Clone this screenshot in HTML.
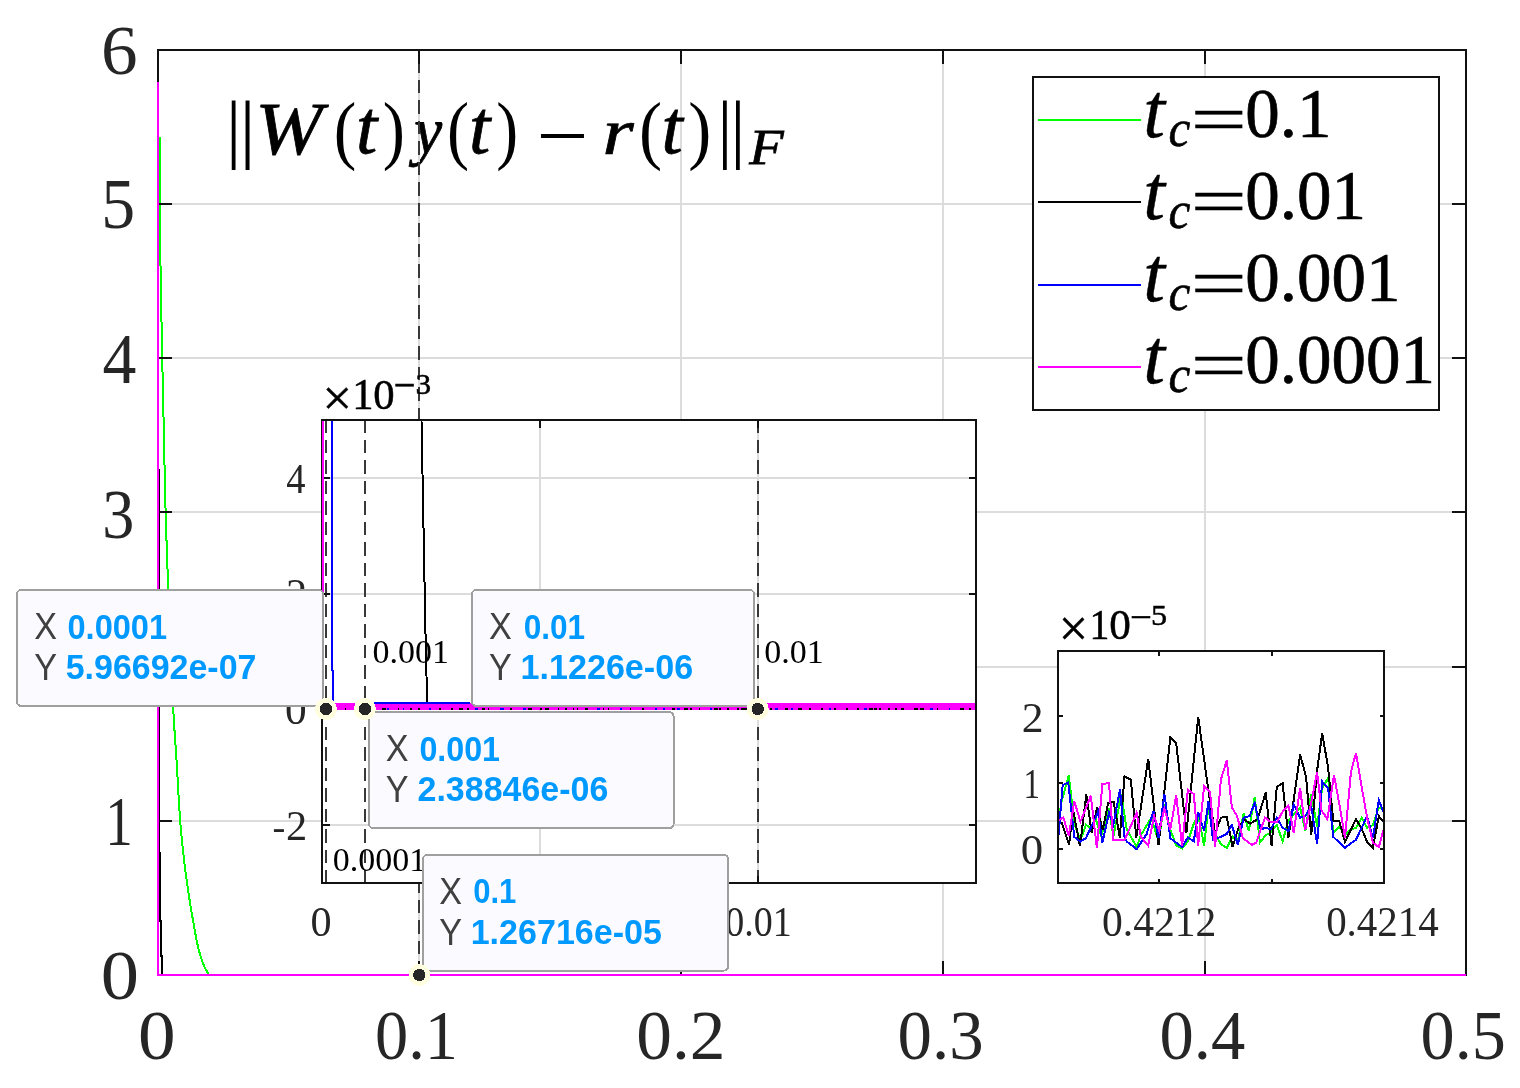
<!DOCTYPE html>
<html><head><meta charset="utf-8"><title>plot</title>
<style>html,body{margin:0;padding:0;background:#fff;width:1520px;height:1088px;overflow:hidden}svg{display:block}</style>
</head><body>
<svg width="1520" height="1088" viewBox="0 0 1520 1088" shape-rendering="crispEdges"><defs><clipPath id="c2"><rect x="1058" y="651" width="326" height="232"/></clipPath></defs>
<rect x="0" y="0" width="1520" height="1088" fill="#fff"/>
<line x1="681.00" y1="50.00" x2="681.00" y2="975.00" stroke="#dcdcdc" stroke-width="2" />
<line x1="943.00" y1="50.00" x2="943.00" y2="975.00" stroke="#dcdcdc" stroke-width="2" />
<line x1="1205.00" y1="50.00" x2="1205.00" y2="975.00" stroke="#dcdcdc" stroke-width="2" />
<line x1="158.00" y1="821.00" x2="1466.00" y2="821.00" stroke="#dcdcdc" stroke-width="2" />
<line x1="158.00" y1="667.00" x2="1466.00" y2="667.00" stroke="#dcdcdc" stroke-width="2" />
<line x1="158.00" y1="512.00" x2="1466.00" y2="512.00" stroke="#dcdcdc" stroke-width="2" />
<line x1="158.00" y1="358.00" x2="1466.00" y2="358.00" stroke="#dcdcdc" stroke-width="2" />
<line x1="158.00" y1="204.00" x2="1466.00" y2="204.00" stroke="#dcdcdc" stroke-width="2" />
<text transform="translate(226.06,154.30) scale(0.7630,0.7508)" font-family="'Liberation Serif', serif" font-style="normal" font-weight="normal" font-size="100" fill="#000">|</text>
<text transform="translate(239.56,154.30) scale(0.8031,0.7508)" font-family="'Liberation Serif', serif" font-style="normal" font-weight="normal" font-size="100" fill="#000">|</text>
<text transform="translate(255.18,153.99) scale(0.8069,0.7359)" font-family="'Liberation Serif', serif" font-style="italic" font-weight="normal" font-size="100" fill="#000" stroke="#000" stroke-width="1.037">W</text>
<text transform="translate(333.72,154.67) scale(0.6775,0.7577)" font-family="'Liberation Serif', serif" font-style="normal" font-weight="normal" font-size="100" fill="#000">(</text>
<text transform="translate(355.98,153.05) scale(0.7647,0.7647)" font-family="'Liberation Serif', serif" font-style="italic" font-weight="normal" font-size="100" fill="#000" stroke="#000" stroke-width="1.046">t</text>
<text transform="translate(382.75,154.67) scale(0.6658,0.7577)" font-family="'Liberation Serif', serif" font-style="normal" font-weight="normal" font-size="100" fill="#000">)</text>
<text transform="translate(414.15,152.94) scale(0.6290,0.6609)" font-family="'Liberation Serif', serif" font-style="italic" font-weight="normal" font-size="100" fill="#000" stroke="#000" stroke-width="1.240">y</text>
<text transform="translate(446.99,154.67) scale(0.6619,0.7577)" font-family="'Liberation Serif', serif" font-style="normal" font-weight="normal" font-size="100" fill="#000">(</text>
<text transform="translate(469.08,153.05) scale(0.7647,0.7647)" font-family="'Liberation Serif', serif" font-style="italic" font-weight="normal" font-size="100" fill="#000" stroke="#000" stroke-width="1.046">t</text>
<text transform="translate(496.18,154.67) scale(0.6580,0.7577)" font-family="'Liberation Serif', serif" font-style="normal" font-weight="normal" font-size="100" fill="#000">)</text>
<text transform="translate(536.50,163.90) scale(0.9241,0.8433)" font-family="'Liberation Serif', serif" font-style="normal" font-weight="normal" font-size="100" fill="#000">−</text>
<text transform="translate(602.55,153.80) scale(0.8021,0.6579)" font-family="'Liberation Serif', serif" font-style="italic" font-weight="normal" font-size="100" fill="#000" stroke="#000" stroke-width="1.096">r</text>
<text transform="translate(639.05,154.67) scale(0.6930,0.7577)" font-family="'Liberation Serif', serif" font-style="normal" font-weight="normal" font-size="100" fill="#000">(</text>
<text transform="translate(661.58,153.05) scale(0.7647,0.7647)" font-family="'Liberation Serif', serif" font-style="italic" font-weight="normal" font-size="100" fill="#000" stroke="#000" stroke-width="1.046">t</text>
<text transform="translate(688.17,154.67) scale(0.6930,0.7577)" font-family="'Liberation Serif', serif" font-style="normal" font-weight="normal" font-size="100" fill="#000">)</text>
<text transform="translate(717.26,154.30) scale(0.7630,0.7508)" font-family="'Liberation Serif', serif" font-style="normal" font-weight="normal" font-size="100" fill="#000">|</text>
<text transform="translate(730.26,154.30) scale(0.7630,0.7508)" font-family="'Liberation Serif', serif" font-style="normal" font-weight="normal" font-size="100" fill="#000">|</text>
<text transform="translate(749.30,164.00) scale(0.5636,0.5116)" font-family="'Liberation Serif', serif" font-style="italic" font-weight="normal" font-size="100" fill="#000" stroke="#000" stroke-width="1.488">F</text>
<line x1="419.00" y1="50.00" x2="419.00" y2="975.00" stroke="#dcdcdc" stroke-width="2" />
<line x1="419.00" y1="50.00" x2="419.00" y2="975.00" stroke="#383838" stroke-width="2" stroke-dasharray="13.5 7" stroke-dashoffset="11.5"/>
<polyline points="159.50,137.00 159.50,141.21 159.51,145.42 159.52,149.63 159.53,153.84 159.54,158.06 159.56,162.27 159.58,166.48 159.60,170.69 159.63,174.90 159.65,179.11 159.68,183.32 159.71,187.53 159.74,191.74 159.78,195.95 159.81,200.17 159.85,204.38 159.89,208.59 159.92,212.80 159.97,217.01 160.01,221.22 160.05,225.43 160.09,229.64 160.14,233.85 160.18,238.07 160.23,242.28 160.28,246.49 160.33,250.70 160.37,254.91 160.42,259.12 160.47,263.33 160.52,267.54 160.57,271.75 160.64,275.96 160.70,280.18 160.78,284.39 160.85,288.60 160.93,292.81 161.02,297.02 161.10,301.23 161.19,305.44 161.27,309.65 161.36,313.86 161.44,318.08 161.52,322.29 161.61,326.50 161.69,330.71 161.77,334.92 161.85,339.13 161.93,343.34 162.02,347.55 162.10,351.76 162.19,355.97 162.27,360.19 162.36,364.40 162.45,368.61 162.54,372.82 162.63,377.03 162.72,381.24 162.82,385.45 162.91,389.66 163.01,393.87 163.10,398.09 163.20,402.30 163.29,406.51 163.39,410.72 163.48,414.93 163.57,419.14 163.65,423.35 163.74,427.56 163.82,431.77 163.91,435.98 163.99,440.20 164.08,444.41 164.16,448.62 164.25,452.83 164.34,457.04 164.43,461.25 164.52,465.46 164.61,469.67 164.69,473.88 164.79,478.10 164.88,482.31 164.97,486.52 165.07,490.73 165.17,494.94 165.28,499.15 165.39,503.36 165.50,507.57 165.62,511.78 165.75,515.99 165.87,520.21 166.00,524.42 166.13,528.63 166.27,532.84 166.40,537.05 166.54,541.26 166.69,545.47 166.83,549.68 166.98,553.89 167.12,558.11 167.27,562.32 167.42,566.53 167.57,570.74 167.73,574.95 167.88,579.16 168.03,583.37 168.18,587.58 168.34,591.79 168.49,596.01 168.64,600.22 168.80,604.43 168.95,608.64 169.11,612.85 169.26,617.06 169.42,621.27 169.58,625.48 169.73,629.69 169.89,633.90 170.06,638.12 170.22,642.33 170.39,646.54 170.55,650.75 170.72,654.96 170.90,659.17 171.07,663.38 171.25,667.59 171.43,671.80 171.62,676.02 171.81,680.23 172.00,684.44 172.20,688.65 172.40,692.86 172.60,697.07 172.81,701.28 173.02,705.49 173.24,709.70 173.48,713.91 173.73,718.13 173.99,722.34 174.26,726.55 174.54,730.76 174.83,734.97 175.11,739.18 175.40,743.39 175.69,747.60 175.97,751.81 176.25,756.03 176.51,760.24 176.77,764.45 177.02,768.66 177.26,772.87 177.50,777.08 177.74,781.29 177.97,785.50 178.21,789.71 178.45,793.92 178.69,798.14 178.95,802.35 179.21,806.56 179.49,810.77 179.78,814.98 180.09,819.19 180.41,823.40 180.76,827.61 181.13,831.82 181.53,836.04 181.94,840.25 182.36,844.46 182.81,848.67 183.26,852.88 183.73,857.09 184.21,861.30 184.71,865.51 185.24,869.72 185.79,873.93 186.36,878.15 186.95,882.36 187.56,886.57 188.18,890.78 188.81,894.99 189.46,899.20 190.13,903.41 190.82,907.62 191.53,911.83 192.25,916.05 192.99,920.26 193.74,924.47 194.47,928.68 195.22,932.89 196.00,937.10 196.83,941.31 197.74,945.52 198.76,949.73 199.90,953.94 201.20,958.16 202.67,962.37 204.40,966.58 206.55,970.79 209.00,975.00 1466.00,975.00" fill="none" stroke="#00ff00" stroke-width="2" stroke-linejoin="miter" stroke-miterlimit="4" />
<polyline points="159.20,469.00 159.20,853.00 160.20,853.00 160.20,921.00 161.20,921.00 161.20,956.00 162.20,956.00 162.20,975.00 1466.00,975.00" fill="none" stroke="#000" stroke-width="2" stroke-linejoin="miter" stroke-miterlimit="4" />
<polyline points="158.00,82.00 158.00,975.00 1466.00,975.00" fill="none" stroke="#ff00ff" stroke-width="2" stroke-linejoin="miter" stroke-miterlimit="4" />
<rect x="158" y="50" width="1308" height="925" fill="none" stroke="#111" stroke-width="2"/>
<line x1="419.00" y1="975.00" x2="419.00" y2="961.00" stroke="#111" stroke-width="2" />
<line x1="419.00" y1="50.00" x2="419.00" y2="64.00" stroke="#111" stroke-width="2" />
<line x1="681.00" y1="975.00" x2="681.00" y2="961.00" stroke="#111" stroke-width="2" />
<line x1="681.00" y1="50.00" x2="681.00" y2="64.00" stroke="#111" stroke-width="2" />
<line x1="943.00" y1="975.00" x2="943.00" y2="961.00" stroke="#111" stroke-width="2" />
<line x1="943.00" y1="50.00" x2="943.00" y2="64.00" stroke="#111" stroke-width="2" />
<line x1="1205.00" y1="975.00" x2="1205.00" y2="961.00" stroke="#111" stroke-width="2" />
<line x1="1205.00" y1="50.00" x2="1205.00" y2="64.00" stroke="#111" stroke-width="2" />
<line x1="158.00" y1="821.00" x2="172.00" y2="821.00" stroke="#111" stroke-width="2" />
<line x1="1466.00" y1="821.00" x2="1452.00" y2="821.00" stroke="#111" stroke-width="2" />
<line x1="158.00" y1="667.00" x2="172.00" y2="667.00" stroke="#111" stroke-width="2" />
<line x1="1466.00" y1="667.00" x2="1452.00" y2="667.00" stroke="#111" stroke-width="2" />
<line x1="158.00" y1="512.00" x2="172.00" y2="512.00" stroke="#111" stroke-width="2" />
<line x1="1466.00" y1="512.00" x2="1452.00" y2="512.00" stroke="#111" stroke-width="2" />
<line x1="158.00" y1="358.00" x2="172.00" y2="358.00" stroke="#111" stroke-width="2" />
<line x1="1466.00" y1="358.00" x2="1452.00" y2="358.00" stroke="#111" stroke-width="2" />
<line x1="158.00" y1="204.00" x2="172.00" y2="204.00" stroke="#111" stroke-width="2" />
<line x1="1466.00" y1="204.00" x2="1452.00" y2="204.00" stroke="#111" stroke-width="2" />
<polyline points="158.00,82.00 158.00,975.00 1466.00,975.00" fill="none" stroke="#ff00ff" stroke-width="2" stroke-linejoin="miter" stroke-miterlimit="4" />
<text transform="translate(101.05,74.32) scale(0.7326,0.6995)" font-family="'Liberation Serif', serif" font-style="normal" font-weight="normal" font-size="100" fill="#262626">6</text>
<text transform="translate(101.26,227.60) scale(0.6777,0.7118)" font-family="'Liberation Serif', serif" font-style="normal" font-weight="normal" font-size="100" fill="#262626">5</text>
<text transform="translate(102.38,383.30) scale(0.6776,0.7110)" font-family="'Liberation Serif', serif" font-style="normal" font-weight="normal" font-size="100" fill="#262626">4</text>
<text transform="translate(102.33,537.71) scale(0.6415,0.7055)" font-family="'Liberation Serif', serif" font-style="normal" font-weight="normal" font-size="100" fill="#262626">3</text>
<text transform="translate(101.27,691.00) scale(0.7359,0.7099)" font-family="'Liberation Serif', serif" font-style="normal" font-weight="normal" font-size="100" fill="#262626">2</text>
<text transform="translate(105.26,845.10) scale(0.5511,0.6983)" font-family="'Liberation Serif', serif" font-style="normal" font-weight="normal" font-size="100" fill="#262626">1</text>
<text transform="translate(100.79,999.02) scale(0.7645,0.6950)" font-family="'Liberation Serif', serif" font-style="normal" font-weight="normal" font-size="100" fill="#262626">0</text>
<text transform="translate(138.03,1058.60) scale(1.0661,1)" font-family="'Liberation Serif', serif" font-style="normal" font-weight="normal" font-size="70.6" fill="#262626">0</text>
<text transform="translate(375.07,1058.60) scale(0.9395,1)" font-family="'Liberation Serif', serif" font-style="normal" font-weight="normal" font-size="70.6" fill="#262626">0.1</text>
<text transform="translate(636.28,1058.60) scale(1.0114,1)" font-family="'Liberation Serif', serif" font-style="normal" font-weight="normal" font-size="70.6" fill="#262626">0.2</text>
<text transform="translate(897.58,1058.60) scale(0.9758,1)" font-family="'Liberation Serif', serif" font-style="normal" font-weight="normal" font-size="70.6" fill="#262626">0.3</text>
<text transform="translate(1159.49,1058.60) scale(0.9721,1)" font-family="'Liberation Serif', serif" font-style="normal" font-weight="normal" font-size="70.6" fill="#262626">0.4</text>
<text transform="translate(1420.60,1058.60) scale(0.9661,1)" font-family="'Liberation Serif', serif" font-style="normal" font-weight="normal" font-size="70.6" fill="#262626">0.5</text>
<rect x="1033" y="77" width="406" height="333" fill="#fff" stroke="#111" stroke-width="2"/>
<line x1="1038.00" y1="119.80" x2="1141.00" y2="119.80" stroke="#00ff00" stroke-width="2" />
<text transform="translate(1143.13,137.34) scale(0.7822,0.7822)" font-family="'Liberation Serif', serif" font-style="italic" font-weight="normal" font-size="100" fill="#000" stroke="#000" stroke-width="0.511">t</text>
<text transform="translate(1168.59,146.49) scale(0.4921,0.5177)" font-family="'Liberation Serif', serif" font-style="italic" font-weight="normal" font-size="100" fill="#000" stroke="#000" stroke-width="1.188">c</text>
<text transform="translate(1190.64,141.81) scale(0.9950,0.6720)" font-family="'Liberation Serif', serif" font-style="normal" font-weight="normal" font-size="100" fill="#000" stroke="#000" stroke-width="0.720">=</text>
<text x="1245.30" y="137.40" font-family="'Liberation Serif', serif" font-style="normal" font-weight="normal" font-size="69" fill="#000" text-anchor="start" stroke="#000" stroke-width="0.7">0.1</text>
<line x1="1038.00" y1="202.20" x2="1141.00" y2="202.20" stroke="#000" stroke-width="2" />
<text transform="translate(1143.13,219.24) scale(0.7822,0.7822)" font-family="'Liberation Serif', serif" font-style="italic" font-weight="normal" font-size="100" fill="#000" stroke="#000" stroke-width="0.511">t</text>
<text transform="translate(1168.59,228.39) scale(0.4921,0.5177)" font-family="'Liberation Serif', serif" font-style="italic" font-weight="normal" font-size="100" fill="#000" stroke="#000" stroke-width="1.188">c</text>
<text transform="translate(1190.64,223.71) scale(0.9950,0.6720)" font-family="'Liberation Serif', serif" font-style="normal" font-weight="normal" font-size="100" fill="#000" stroke="#000" stroke-width="0.720">=</text>
<text x="1245.30" y="219.30" font-family="'Liberation Serif', serif" font-style="normal" font-weight="normal" font-size="69" fill="#000" text-anchor="start" stroke="#000" stroke-width="0.7">0.01</text>
<line x1="1038.00" y1="284.60" x2="1141.00" y2="284.60" stroke="#0000ff" stroke-width="2" />
<text transform="translate(1143.13,301.14) scale(0.7822,0.7822)" font-family="'Liberation Serif', serif" font-style="italic" font-weight="normal" font-size="100" fill="#000" stroke="#000" stroke-width="0.511">t</text>
<text transform="translate(1168.59,310.29) scale(0.4921,0.5177)" font-family="'Liberation Serif', serif" font-style="italic" font-weight="normal" font-size="100" fill="#000" stroke="#000" stroke-width="1.188">c</text>
<text transform="translate(1190.64,305.61) scale(0.9950,0.6720)" font-family="'Liberation Serif', serif" font-style="normal" font-weight="normal" font-size="100" fill="#000" stroke="#000" stroke-width="0.720">=</text>
<text x="1245.30" y="301.20" font-family="'Liberation Serif', serif" font-style="normal" font-weight="normal" font-size="69" fill="#000" text-anchor="start" stroke="#000" stroke-width="0.7">0.001</text>
<line x1="1038.00" y1="367.00" x2="1141.00" y2="367.00" stroke="#ff00ff" stroke-width="2" />
<text transform="translate(1143.13,383.04) scale(0.7822,0.7822)" font-family="'Liberation Serif', serif" font-style="italic" font-weight="normal" font-size="100" fill="#000" stroke="#000" stroke-width="0.511">t</text>
<text transform="translate(1168.59,392.19) scale(0.4921,0.5177)" font-family="'Liberation Serif', serif" font-style="italic" font-weight="normal" font-size="100" fill="#000" stroke="#000" stroke-width="1.188">c</text>
<text transform="translate(1190.64,387.51) scale(0.9950,0.6720)" font-family="'Liberation Serif', serif" font-style="normal" font-weight="normal" font-size="100" fill="#000" stroke="#000" stroke-width="0.720">=</text>
<text x="1245.30" y="383.10" font-family="'Liberation Serif', serif" font-style="normal" font-weight="normal" font-size="69" fill="#000" text-anchor="start" stroke="#000" stroke-width="0.7">0.0001</text>
<rect x="322" y="420" width="654" height="463" fill="#fff"/>
<line x1="540.00" y1="420.00" x2="540.00" y2="883.00" stroke="#dcdcdc" stroke-width="2" />
<line x1="758.00" y1="420.00" x2="758.00" y2="883.00" stroke="#dcdcdc" stroke-width="2" />
<line x1="322.00" y1="477.88" x2="976.00" y2="477.88" stroke="#dcdcdc" stroke-width="2" />
<line x1="322.00" y1="593.62" x2="976.00" y2="593.62" stroke="#dcdcdc" stroke-width="2" />
<line x1="322.00" y1="709.38" x2="976.00" y2="709.38" stroke="#dcdcdc" stroke-width="2" />
<line x1="322.00" y1="825.12" x2="976.00" y2="825.12" stroke="#dcdcdc" stroke-width="2" />
<line x1="326.00" y1="420.00" x2="326.00" y2="883.00" stroke="#383838" stroke-width="2" stroke-dasharray="13.5 7" stroke-dashoffset="1"/>
<line x1="365.00" y1="420.00" x2="365.00" y2="883.00" stroke="#383838" stroke-width="2" stroke-dasharray="13.5 7" stroke-dashoffset="1"/>
<line x1="758.00" y1="420.00" x2="758.00" y2="883.00" stroke="#383838" stroke-width="2" stroke-dasharray="13.5 7" stroke-dashoffset="1"/>
<text x="332.71" y="871.30" font-family="'Liberation Serif', serif" font-style="normal" font-weight="normal" font-size="34" fill="#000" text-anchor="start" >0.0001</text>
<text x="372.41" y="663.00" font-family="'Liberation Serif', serif" font-style="normal" font-weight="normal" font-size="34" fill="#000" text-anchor="start" >0.001</text>
<text x="764.21" y="663.30" font-family="'Liberation Serif', serif" font-style="normal" font-weight="normal" font-size="34" fill="#000" text-anchor="start" >0.01</text>
<rect x="322" y="420" width="654" height="463" fill="none" stroke="#111" stroke-width="2"/>
<line x1="540.00" y1="883.00" x2="540.00" y2="875.50" stroke="#111" stroke-width="2" />
<line x1="540.00" y1="420.00" x2="540.00" y2="427.50" stroke="#111" stroke-width="2" />
<line x1="758.00" y1="883.00" x2="758.00" y2="875.50" stroke="#111" stroke-width="2" />
<line x1="758.00" y1="420.00" x2="758.00" y2="427.50" stroke="#111" stroke-width="2" />
<line x1="322.00" y1="477.88" x2="329.50" y2="477.88" stroke="#111" stroke-width="2" />
<line x1="976.00" y1="477.88" x2="968.50" y2="477.88" stroke="#111" stroke-width="2" />
<line x1="322.00" y1="593.62" x2="329.50" y2="593.62" stroke="#111" stroke-width="2" />
<line x1="976.00" y1="593.62" x2="968.50" y2="593.62" stroke="#111" stroke-width="2" />
<line x1="322.00" y1="709.38" x2="329.50" y2="709.38" stroke="#111" stroke-width="2" />
<line x1="976.00" y1="709.38" x2="968.50" y2="709.38" stroke="#111" stroke-width="2" />
<line x1="322.00" y1="825.12" x2="329.50" y2="825.12" stroke="#111" stroke-width="2" />
<line x1="976.00" y1="825.12" x2="968.50" y2="825.12" stroke="#111" stroke-width="2" />
<polyline points="323.00,421.00 323.00,706.00" fill="none" stroke="#ff00ff" stroke-width="2" stroke-linejoin="miter" stroke-miterlimit="4" />
<polyline points="332.00,421.00 332.00,669.00 333.00,672.00 333.00,702.00" fill="none" stroke="#0000ff" stroke-width="2" stroke-linejoin="miter" stroke-miterlimit="4" />
<polyline points="421.50,421.00 423.00,500.00 425.30,625.00 426.30,665.00 427.00,703.00" fill="none" stroke="#000" stroke-width="2" stroke-linejoin="miter" stroke-miterlimit="4" />
<rect x="323" y="703" width="652" height="7" fill="#ff00ff"/>
<polyline points="374.30,702.50 470.00,702.50" fill="none" stroke="#0000ff" stroke-width="2" stroke-linejoin="miter" stroke-miterlimit="4" />
<rect x="330" y="708" width="3" height="2" fill="#000"/>
<rect x="335" y="708" width="2" height="2" fill="#0000ff"/>
<rect x="345" y="708" width="1" height="2" fill="#000"/>
<rect x="357" y="708" width="3" height="2" fill="#000"/>
<rect x="363" y="708" width="2" height="2" fill="#0000ff"/>
<rect x="372" y="708" width="2" height="2" fill="#000"/>
<rect x="382" y="708" width="4" height="2" fill="#000"/>
<rect x="387" y="708" width="2" height="2" fill="#0000ff"/>
<rect x="398" y="708" width="1" height="2" fill="#000"/>
<rect x="403" y="708" width="1" height="2" fill="#0000ff"/>
<rect x="410" y="708" width="2" height="2" fill="#000"/>
<rect x="418" y="708" width="2" height="2" fill="#000"/>
<rect x="429" y="708" width="2" height="2" fill="#0000ff"/>
<rect x="439" y="708" width="2" height="2" fill="#000"/>
<rect x="451" y="708" width="2" height="2" fill="#000"/>
<rect x="459" y="708" width="4" height="2" fill="#000"/>
<rect x="467" y="708" width="2" height="2" fill="#000"/>
<rect x="475" y="708" width="3" height="2" fill="#0000ff"/>
<rect x="482" y="708" width="3" height="2" fill="#000"/>
<rect x="488" y="708" width="1" height="2" fill="#000"/>
<rect x="500" y="708" width="4" height="2" fill="#0000ff"/>
<rect x="510" y="708" width="2" height="2" fill="#000"/>
<rect x="523" y="708" width="3" height="2" fill="#0000ff"/>
<rect x="528" y="708" width="4" height="2" fill="#000"/>
<rect x="540" y="708" width="2" height="2" fill="#000"/>
<rect x="545" y="708" width="4" height="2" fill="#000"/>
<rect x="558" y="708" width="1" height="2" fill="#000"/>
<rect x="565" y="708" width="2" height="2" fill="#000"/>
<rect x="573" y="708" width="1" height="2" fill="#000"/>
<rect x="577" y="708" width="1" height="2" fill="#000"/>
<rect x="585" y="708" width="3" height="2" fill="#000"/>
<rect x="597" y="708" width="3" height="2" fill="#0000ff"/>
<rect x="603" y="708" width="1" height="2" fill="#000"/>
<rect x="608" y="708" width="1" height="2" fill="#000"/>
<rect x="620" y="708" width="2" height="2" fill="#0000ff"/>
<rect x="630" y="708" width="1" height="2" fill="#000"/>
<rect x="642" y="708" width="2" height="2" fill="#000"/>
<rect x="655" y="708" width="2" height="2" fill="#0000ff"/>
<rect x="663" y="708" width="2" height="2" fill="#0000ff"/>
<rect x="672" y="708" width="3" height="2" fill="#000"/>
<rect x="677" y="708" width="3" height="2" fill="#0000ff"/>
<rect x="684" y="708" width="4" height="2" fill="#000"/>
<rect x="690" y="708" width="2" height="2" fill="#000"/>
<rect x="699" y="708" width="1" height="2" fill="#000"/>
<rect x="710" y="708" width="2" height="2" fill="#0000ff"/>
<rect x="714" y="708" width="4" height="2" fill="#000"/>
<rect x="719" y="708" width="2" height="2" fill="#000"/>
<rect x="727" y="708" width="2" height="2" fill="#000"/>
<rect x="737" y="708" width="2" height="2" fill="#000"/>
<rect x="741" y="708" width="4" height="2" fill="#000"/>
<rect x="745" y="708" width="4" height="2" fill="#000"/>
<rect x="753" y="708" width="2" height="2" fill="#000"/>
<rect x="759" y="708" width="2" height="2" fill="#000"/>
<rect x="770" y="708" width="2" height="2" fill="#000"/>
<rect x="775" y="708" width="3" height="2" fill="#0000ff"/>
<rect x="785" y="708" width="3" height="2" fill="#000"/>
<rect x="791" y="708" width="2" height="2" fill="#0000ff"/>
<rect x="798" y="708" width="4" height="2" fill="#000"/>
<rect x="809" y="708" width="2" height="2" fill="#000"/>
<rect x="821" y="708" width="2" height="2" fill="#000"/>
<rect x="829" y="708" width="2" height="2" fill="#0000ff"/>
<rect x="834" y="708" width="2" height="2" fill="#000"/>
<rect x="846" y="708" width="2" height="2" fill="#000"/>
<rect x="857" y="708" width="2" height="2" fill="#000"/>
<rect x="864" y="708" width="3" height="2" fill="#0000ff"/>
<rect x="869" y="708" width="4" height="2" fill="#000"/>
<rect x="874" y="708" width="3" height="2" fill="#000"/>
<rect x="879" y="708" width="2" height="2" fill="#000"/>
<rect x="888" y="708" width="2" height="2" fill="#000"/>
<rect x="895" y="708" width="2" height="2" fill="#000"/>
<rect x="901" y="708" width="3" height="2" fill="#000"/>
<rect x="914" y="708" width="4" height="2" fill="#000"/>
<rect x="920" y="708" width="4" height="2" fill="#000"/>
<rect x="930" y="708" width="3" height="2" fill="#0000ff"/>
<rect x="937" y="708" width="1" height="2" fill="#000"/>
<rect x="949" y="708" width="1" height="2" fill="#0000ff"/>
<rect x="960" y="708" width="4" height="2" fill="#000"/>
<rect x="969" y="708" width="2" height="2" fill="#000"/>
<text transform="translate(286.25,492.60) scale(0.3851,0.4193)" font-family="'Liberation Serif', serif" font-style="normal" font-weight="normal" font-size="100" fill="#262626">4</text>
<text transform="translate(286.04,608.30) scale(0.4241,0.4184)" font-family="'Liberation Serif', serif" font-style="normal" font-weight="normal" font-size="100" fill="#262626">2</text>
<text transform="translate(284.95,723.59) scale(0.4341,0.4164)" font-family="'Liberation Serif', serif" font-style="normal" font-weight="normal" font-size="100" fill="#262626">0</text>
<text transform="translate(286.04,839.80) scale(0.4241,0.4184)" font-family="'Liberation Serif', serif" font-style="normal" font-weight="normal" font-size="100" fill="#262626">2</text>
<text transform="translate(272.57,839.50) scale(0.3850,0.3882)" font-family="'Liberation Serif', serif" font-style="normal" font-weight="normal" font-size="100" fill="#262626">-</text>
<text transform="translate(310.39,936.09) scale(0.4223,0.4194)" font-family="'Liberation Serif', serif" font-style="normal" font-weight="normal" font-size="100" fill="#262626">0</text>
<text transform="translate(493.42,935.90) scale(0.9746,1)" font-family="'Liberation Serif', serif" font-style="normal" font-weight="normal" font-size="42.5" fill="#262626">0.005</text>
<text transform="translate(725.25,935.90) scale(0.8945,1)" font-family="'Liberation Serif', serif" font-style="normal" font-weight="normal" font-size="42.5" fill="#262626">0.01</text>
<text transform="translate(322.56,414.55) scale(0.5237,0.5157)" font-family="'Liberation Serif', serif" font-style="normal" font-weight="normal" font-size="100" fill="#000" stroke="#000" stroke-width="0.962">×</text>
<text transform="translate(352.16,408.90) scale(0.4261,0.4408)" font-family="'Liberation Serif', serif" font-style="normal" font-weight="normal" font-size="100" fill="#000" stroke="#000" stroke-width="1.154">1</text>
<text transform="translate(373.27,408.58) scale(0.4271,0.4298)" font-family="'Liberation Serif', serif" font-style="normal" font-weight="normal" font-size="100" fill="#000" stroke="#000" stroke-width="1.167">0</text>
<text transform="translate(393.86,400.47) scale(0.3890,0.4417)" font-family="'Liberation Serif', serif" font-style="normal" font-weight="normal" font-size="100" fill="#000" stroke="#000" stroke-width="1.204">−</text>
<text transform="translate(415.51,393.81) scale(0.3123,0.3007)" font-family="'Liberation Serif', serif" font-style="normal" font-weight="normal" font-size="100" fill="#000" stroke="#000" stroke-width="1.631">3</text>
<rect x="1058" y="651" width="326" height="232" fill="#fff"/>
<g clip-path="url(#c2)">
<polyline points="1057.20,828.20 1061.60,801.70 1068.80,775.30 1074.30,823.80 1080.40,840.30 1085.90,824.90 1091.40,828.20 1095.80,819.40 1101.30,835.90 1109.00,808.40 1113.40,837.00 1121.20,794.00 1126.70,829.30 1136.60,846.90 1140.90,835.30 1151.20,817.60 1158.50,841.20 1164.40,804.40 1170.30,829.40 1176.20,845.60 1182.10,848.50 1187.90,841.20 1193.80,823.50 1198.20,814.70 1204.10,845.60 1208.50,805.90 1214.40,832.40 1220.90,844.10 1226.80,847.80 1232.60,836.80 1237.80,841.20 1243.70,813.20 1248.80,830.90 1254.70,797.10 1259.90,842.60 1265.70,835.30 1270.90,832.40 1276.80,825.00 1282.60,841.20 1288.50,820.60 1293.70,814.70 1300.10,807.40 1305.30,830.90 1311.20,794.10 1317.10,826.50 1322.20,788.20 1328.10,777.90 1333.20,832.40 1339.10,826.50 1345.00,835.30 1350.90,829.40 1356.00,827.90 1361.90,817.60 1367.10,827.90 1372.90,825.00 1378.80,807.40 1384.00,810.30" fill="none" stroke="#00ff00" stroke-width="2" stroke-linejoin="miter" stroke-miterlimit="4" />
<polyline points="1057.30,823.40 1062.00,823.40 1069.10,844.50 1073.00,809.40 1080.00,846.10 1086.30,794.50 1091.70,832.80 1097.20,807.00 1102.70,829.70 1108.10,803.10 1113.60,801.60 1119.80,837.50 1124.50,776.60 1130.80,779.70 1136.30,837.50 1148.20,758.80 1158.50,844.90 1170.30,737.50 1176.20,743.40 1186.50,832.40 1198.20,716.90 1208.50,791.20 1215.10,833.80 1220.90,817.60 1226.80,816.90 1232.60,847.10 1238.50,827.90 1244.40,819.90 1250.30,823.50 1257.60,819.10 1265.70,792.60 1271.60,845.60 1276.80,786.80 1282.60,783.10 1288.50,837.50 1300.10,754.40 1306.00,776.50 1311.20,835.30 1317.10,770.60 1322.20,733.10 1328.10,767.60 1333.20,820.60 1339.10,820.60 1345.00,841.90 1356.00,819.10 1361.90,829.40 1367.10,841.90 1372.90,847.80 1378.80,816.20 1384.00,822.10" fill="none" stroke="#000" stroke-width="2" stroke-linejoin="miter" stroke-miterlimit="4" />
<polyline points="1057.20,849.20 1059.40,824.90 1062.70,785.20 1068.20,782.40 1074.30,837.00 1080.40,841.40 1085.90,838.10 1095.80,817.20 1098.00,811.70 1102.40,842.50 1109.00,812.80 1113.40,824.90 1120.00,789.60 1124.50,837.00 1126.70,841.40 1136.60,849.20 1146.80,833.80 1153.40,811.00 1158.50,838.20 1164.40,794.10 1170.30,838.20 1182.10,847.10 1187.90,837.50 1193.80,841.20 1198.20,812.50 1204.10,830.90 1208.50,801.50 1213.00,839.70 1220.90,836.80 1226.80,833.80 1231.90,825.00 1237.80,844.90 1243.70,817.60 1249.60,816.20 1254.70,802.90 1260.60,829.40 1265.70,827.90 1270.90,829.40 1276.80,817.60 1282.60,827.90 1288.50,830.90 1293.70,804.40 1300.10,817.60 1305.30,816.20 1311.20,805.90 1317.10,844.10 1322.20,781.60 1328.10,788.20 1333.20,836.80 1345.00,847.80 1356.00,839.70 1367.10,816.20 1372.90,838.20 1378.80,800.00 1384.00,813.20" fill="none" stroke="#0000ff" stroke-width="2" stroke-linejoin="miter" stroke-miterlimit="4" />
<polyline points="1057.20,821.60 1063.30,817.20 1068.80,835.90 1074.30,801.20 1080.40,821.60 1090.80,795.70 1096.90,848.00 1102.40,784.10 1109.00,783.00 1113.40,840.30 1124.50,840.30 1136.60,812.80 1140.90,836.80 1148.20,845.60 1154.10,816.20 1159.30,830.90 1164.40,808.80 1170.30,829.40 1176.20,795.60 1182.10,845.60 1187.90,789.70 1193.80,794.10 1198.20,845.60 1204.10,786.00 1210.00,791.90 1215.10,847.10 1220.90,779.40 1226.80,760.30 1231.90,807.40 1237.10,816.20 1242.90,838.20 1251.80,844.90 1256.20,842.60 1265.00,817.60 1270.90,822.10 1276.80,822.10 1282.60,811.80 1288.50,805.90 1293.70,832.40 1300.10,788.20 1305.30,829.40 1311.20,802.90 1317.10,772.10 1321.50,810.30 1327.40,819.10 1334.00,775.00 1339.10,802.90 1345.00,838.20 1350.90,772.10 1356.00,752.90 1361.90,788.20 1367.10,817.60 1372.90,842.60 1378.80,847.10 1384.00,827.90" fill="none" stroke="#ff00ff" stroke-width="2" stroke-linejoin="miter" stroke-miterlimit="4" />
</g>
<rect x="1058" y="651" width="326" height="232" fill="none" stroke="#111" stroke-width="2"/>
<line x1="1158.70" y1="883.00" x2="1158.70" y2="878.50" stroke="#111" stroke-width="2" />
<line x1="1158.70" y1="651.00" x2="1158.70" y2="655.50" stroke="#111" stroke-width="2" />
<line x1="1271.60" y1="883.00" x2="1271.60" y2="878.50" stroke="#111" stroke-width="2" />
<line x1="1271.60" y1="651.00" x2="1271.60" y2="655.50" stroke="#111" stroke-width="2" />
<line x1="1058.00" y1="848.80" x2="1062.50" y2="848.80" stroke="#111" stroke-width="2" />
<line x1="1384.00" y1="848.80" x2="1379.50" y2="848.80" stroke="#111" stroke-width="2" />
<line x1="1058.00" y1="782.60" x2="1062.50" y2="782.60" stroke="#111" stroke-width="2" />
<line x1="1384.00" y1="782.60" x2="1379.50" y2="782.60" stroke="#111" stroke-width="2" />
<line x1="1058.00" y1="716.40" x2="1062.50" y2="716.40" stroke="#111" stroke-width="2" />
<line x1="1384.00" y1="716.40" x2="1379.50" y2="716.40" stroke="#111" stroke-width="2" />
<text transform="translate(1021.68,732.10) scale(0.4365,0.4168)" font-family="'Liberation Serif', serif" font-style="normal" font-weight="normal" font-size="100" fill="#262626">2</text>
<text transform="translate(1023.60,798.30) scale(0.3295,0.4181)" font-family="'Liberation Serif', serif" font-style="normal" font-weight="normal" font-size="100" fill="#262626">1</text>
<text transform="translate(1020.69,864.49) scale(0.4483,0.4238)" font-family="'Liberation Serif', serif" font-style="normal" font-weight="normal" font-size="100" fill="#262626">0</text>
<text transform="translate(1102.02,936.20) scale(0.9786,1)" font-family="'Liberation Serif', serif" font-style="normal" font-weight="normal" font-size="42.5" fill="#262626">0.4212</text>
<text transform="translate(1326.14,936.20) scale(0.9643,1)" font-family="'Liberation Serif', serif" font-style="normal" font-weight="normal" font-size="42.5" fill="#262626">0.4214</text>
<text transform="translate(1058.78,645.68) scale(0.5212,0.5181)" font-family="'Liberation Serif', serif" font-style="normal" font-weight="normal" font-size="100" fill="#000" stroke="#000" stroke-width="0.962">×</text>
<text transform="translate(1089.40,639.00) scale(0.3977,0.4272)" font-family="'Liberation Serif', serif" font-style="normal" font-weight="normal" font-size="100" fill="#000" stroke="#000" stroke-width="1.212">1</text>
<text transform="translate(1109.26,639.38) scale(0.4318,0.4298)" font-family="'Liberation Serif', serif" font-style="normal" font-weight="normal" font-size="100" fill="#000" stroke="#000" stroke-width="1.161">0</text>
<text transform="translate(1130.06,629.62) scale(0.3890,0.3815)" font-family="'Liberation Serif', serif" font-style="normal" font-weight="normal" font-size="100" fill="#000" stroke="#000" stroke-width="1.298">−</text>
<text transform="translate(1151.02,624.51) scale(0.3227,0.2995)" font-family="'Liberation Serif', serif" font-style="normal" font-weight="normal" font-size="100" fill="#000" stroke="#000" stroke-width="1.607">5</text>
<rect x="17" y="590.2" width="306" height="115.60000000000002" rx="4" ry="4" fill="#fafaff" stroke="#9f9f9f" stroke-width="2"/>
<text transform="translate(34.23,639.00) scale(0.3416,0.3634)" font-family="'Liberation Sans', sans-serif" font-style="normal" font-weight="normal" font-size="100" fill="#404040">X</text>
<text transform="translate(34.25,680.00) scale(0.3419,0.3648)" font-family="'Liberation Sans', sans-serif" font-style="normal" font-weight="normal" font-size="100" fill="#404040">Y</text>
<text transform="translate(67.51,638.54) scale(0.9303,1)" font-family="'Liberation Sans', sans-serif" font-style="normal" font-weight="bold" font-size="35" fill="#0099ff">0.0001</text>
<text transform="translate(65.65,679.34) scale(0.9709,1)" font-family="'Liberation Sans', sans-serif" font-style="normal" font-weight="bold" font-size="35" fill="#0099ff">5.96692e-07</text>
<rect x="472" y="590.2" width="282" height="115.60000000000002" rx="4" ry="4" fill="#fafaff" stroke="#9f9f9f" stroke-width="2"/>
<text transform="translate(489.03,639.00) scale(0.3416,0.3634)" font-family="'Liberation Sans', sans-serif" font-style="normal" font-weight="normal" font-size="100" fill="#404040">X</text>
<text transform="translate(489.05,680.00) scale(0.3419,0.3648)" font-family="'Liberation Sans', sans-serif" font-style="normal" font-weight="normal" font-size="100" fill="#404040">Y</text>
<text transform="translate(523.65,638.54) scale(0.9017,1)" font-family="'Liberation Sans', sans-serif" font-style="normal" font-weight="bold" font-size="35" fill="#0099ff">0.01</text>
<text transform="translate(520.55,679.34) scale(0.9750,1)" font-family="'Liberation Sans', sans-serif" font-style="normal" font-weight="bold" font-size="35" fill="#0099ff">1.1226e-06</text>
<rect x="369.1" y="712.3" width="304.5" height="115.60000000000002" rx="4" ry="4" fill="#fafaff" stroke="#9f9f9f" stroke-width="2"/>
<text transform="translate(385.83,761.10) scale(0.3416,0.3634)" font-family="'Liberation Sans', sans-serif" font-style="normal" font-weight="normal" font-size="100" fill="#404040">X</text>
<text transform="translate(385.85,802.10) scale(0.3419,0.3648)" font-family="'Liberation Sans', sans-serif" font-style="normal" font-weight="normal" font-size="100" fill="#404040">Y</text>
<text transform="translate(419.42,760.64) scale(0.9211,1)" font-family="'Liberation Sans', sans-serif" font-style="normal" font-weight="bold" font-size="35" fill="#0099ff">0.001</text>
<text transform="translate(417.52,801.44) scale(0.9707,1)" font-family="'Liberation Sans', sans-serif" font-style="normal" font-weight="bold" font-size="35" fill="#0099ff">2.38846e-06</text>
<rect x="423.2" y="855" width="304.8" height="115.60000000000002" rx="4" ry="4" fill="#fafaff" stroke="#9f9f9f" stroke-width="2"/>
<text transform="translate(439.13,903.80) scale(0.3416,0.3634)" font-family="'Liberation Sans', sans-serif" font-style="normal" font-weight="normal" font-size="100" fill="#404040">X</text>
<text transform="translate(439.15,944.80) scale(0.3419,0.3648)" font-family="'Liberation Sans', sans-serif" font-style="normal" font-weight="normal" font-size="100" fill="#404040">Y</text>
<text transform="translate(473.17,903.34) scale(0.8878,1)" font-family="'Liberation Sans', sans-serif" font-style="normal" font-weight="bold" font-size="35" fill="#0099ff">0.1</text>
<text transform="translate(470.65,944.14) scale(0.9737,1)" font-family="'Liberation Sans', sans-serif" font-style="normal" font-weight="bold" font-size="35" fill="#0099ff">1.26716e-05</text>
<circle cx="325.9" cy="709" r="10.9" fill="#ffffe0"/>
<circle cx="325.9" cy="709" r="6.2" fill="#262626"/>
<circle cx="364.9" cy="709" r="10.9" fill="#ffffe0"/>
<circle cx="364.9" cy="709" r="6.2" fill="#262626"/>
<circle cx="757.7" cy="709" r="10.9" fill="#ffffe0"/>
<circle cx="757.7" cy="709" r="6.2" fill="#262626"/>
<circle cx="419.4" cy="975" r="10.9" fill="#ffffe0"/>
<circle cx="419.4" cy="975" r="6.2" fill="#262626"/>
</svg>
</body></html>
